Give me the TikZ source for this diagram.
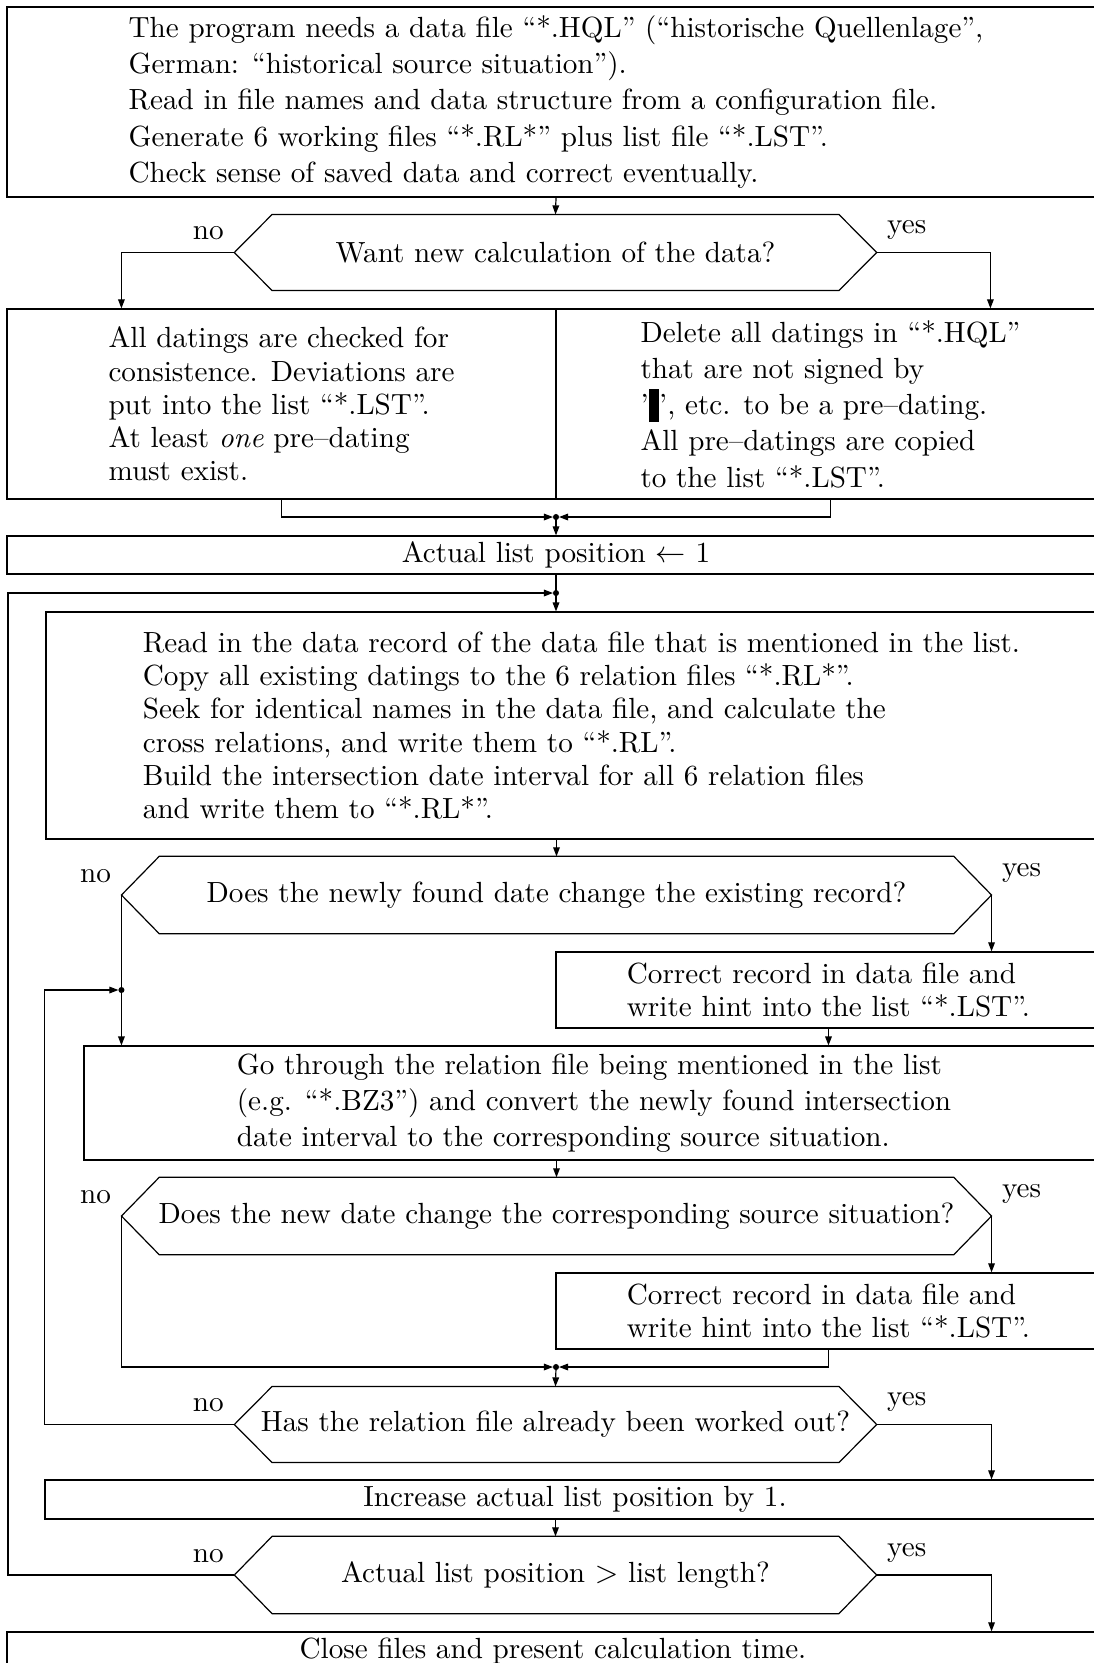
\documentclass[tikz,border=0pt]{standalone}
\usepackage{amsmath}
\usepackage{tikz}
\usetikzlibrary{positioning, arrows.meta, calc}

\tikzset{
  process/.style={draw, rectangle, inner sep=0pt, align=left},
  decision/.style={inner sep=0pt, minimum width=212.2pt, minimum height=24.8pt},
  branch/.style={inner sep=0pt},
  tight/.style={font=\fontsize{9.65pt}{11pt}\selectfont},
}

\begin{document}
\begin{tikzpicture}[x=0.331pt, y=-0.331pt, font=\fontsize{9.65pt}{12pt}\selectfont,
    >={Triangle[length=3pt, width=2.2pt]}]
  \useasboundingbox (0,0) rectangle (1094,1663);
  \clip (0,0) rectangle (1094,1663);

  \node[process, minimum width=363.4pt, minimum height=62.9pt] (setup) at (556,102)
    {The program needs a data file “*.HQL” (“historische Quellenlage”,\\
     German: “historical source situation”).\\
     Read in file names and data structure from a configuration file.\\
     Generate 6 working files “*.RL*” plus list file “*.LST”.\\
     Check sense of saved data and correct eventually.};
  \node[decision] (want) at (555.5,252.5) {Want new calculation of the data?};
  \node[process, tight, minimum width=181.7pt, minimum height=62.9pt] (check) at (281.5,404)
    {All datings are checked for\\
     consistence. Deviations are\\
     put into the list “*.LST”.\\
     At least \emph{one} pre--dating\\
     must exist.};
  \node[process, minimum width=181.7pt, minimum height=62.9pt] (delete) at (830.5,404)
    {Delete all datings in “*.HQL”\\
     that are not signed by\\
     ’\rule[-2.5pt]{3.5pt}{11pt}’, etc. to be a pre--dating.\\
     All pre--datings are copied\\
     to the list “*.LST”.};
  \node[process, minimum width=363.4pt, minimum height=12.6pt] (init) at (556,555)
    {Actual list position $\leftarrow$ 1};
  \node[process, tight, minimum width=354.5pt, minimum height=75.1pt] (read) at (581.5,725.5)
    {Read in the data record of the data file that is mentioned in the list.\\
     Copy all existing datings to the 6 relation files “*.RL*”.\\
     Seek for identical names in the data file, and calculate the\\
     cross relations, and write them to “*.RL”.\\
     Build the intersection date interval for all 6 relation files\\
     and write them to “*.RL*”.};
  \node[decision, minimum width=287.6pt, minimum height=25.2pt] (newdate) at (556.5,895)
    {Does the newly found date change the existing record?};
  \node[process, tight, minimum width=180.4pt, minimum height=25.2pt] (corr1) at (828.5,990)
    {Correct record in data file and\\
     write hint into the list “*.LST”.};
  \node[process, minimum width=337.6pt, minimum height=37.7pt] (convert) at (594,1103)
    {Go through the relation file being mentioned in the list\\
     (e.g. “*.BZ3”) and convert the newly found intersection\\
     date interval to the corresponding source situation.};
  \node[decision, minimum width=287.6pt, minimum height=25.2pt] (newsrc) at (556.5,1216)
    {Does the new date change the corresponding source situation?};
  \node[process, tight, minimum width=180.4pt, minimum height=25.2pt] (corr2) at (828.5,1311)
    {Correct record in data file and\\
     write hint into the list “*.LST”.};
  \node[decision] (done) at (555.5,1424.5) {Has the relation file already been worked out?};
  \node[process, minimum width=350.9pt, minimum height=12.9pt] (incr) at (575,1499.5)
    {Increase actual list position by 1.};
  \node[decision, minimum height=25.2pt] (last) at (555.5,1575)
    {Actual list position $>$ list length?};
  \node[process, minimum width=361.5pt, minimum height=12.6pt] (close) at (553,1651)
    {Close files and present calculation time.};

  % hexagons round the questions
  \foreach \d in {want, newdate, newsrc, done, last}
    \draw (\d.west) -- ([xshift=12.5pt]\d.north west) -- ([xshift=-12.5pt]\d.north east)
      -- (\d.east) -- ([xshift=-12.5pt]\d.south east) -- ([xshift=12.5pt]\d.south west) -- cycle;

  \node[branch, above left=4pt and 3.3pt of want.west] (want-no) {no};
  \node[branch, above right=4pt and 3.3pt of want.east] (want-yes) {yes};
  \node[branch, above left=4pt and 3.3pt of newdate.west] (newdate-no) {no};
  \node[branch, above right=4pt and 3.3pt of newdate.east] (newdate-yes) {yes};
  \node[branch, above left=4pt and 3.3pt of newsrc.west] (newsrc-no) {no};
  \node[branch, above right=4pt and 3.3pt of newsrc.east] (newsrc-yes) {yes};
  \node[branch, above left=4pt and 3.3pt of done.west] (done-no) {no};
  \node[branch, above right=4pt and 3.3pt of done.east] (done-yes) {yes};
  \node[branch, above left=4pt and 3.3pt of last.west] (last-no) {no};
  \node[branch, above right=4pt and 3.3pt of last.east] (last-yes) {yes};

  \coordinate (j1) at (556,517);
  \coordinate (j2) at (556,593);
  \coordinate (j3) at (newdate.west |- corr1.west);
  \coordinate (j4) at (556,1367);

  \draw[->] (setup.south) -- (want.north);
  \draw[->] (want.west) -| ($(check.north west)+(115,0)$);
  \draw[->] (want.east) -| ($(delete.north west)+(435,0)$);
  \draw[->, shorten >=1pt] (check.south) |- (j1);
  \draw[->, shorten >=1pt] (delete.south) |- (j1);
  \draw[->] (j1) -- (init.north);
  \draw (init.south) -- (j2);
  \draw[->] (j2) -- (j2 |- read.north);
  \draw[->] (newdate.north |- read.south) -- (newdate.north);
  \draw[->] (newdate.east) -- (newdate.east |- corr1.north);
  \draw[->] (newdate.west) -- (newdate.west |- convert.north);
  \draw[->] (corr1.south) -- (corr1.south |- convert.north);
  \draw[->] (newsrc.north |- convert.south) -- (newsrc.north);
  \draw[->] (newsrc.east) -- (newsrc.east |- corr2.north);
  \draw[->, shorten >=1pt] (newsrc.west) |- (j4);
  \draw[->, shorten >=1pt] (corr2.south) |- (j4);
  \draw[->] (j4) -- (done.north);
  \draw[->, shorten >=1pt] (done.west) -| ($(j3)+(-77,0)$) -- (j3);
  \draw[->] (done.east) -| (newsrc.east |- incr.north);
  \draw[->] (last.north |- incr.south) -- (last.north);
  \draw[->, shorten >=1pt] (last.west) -| ($(j2)+(-548,0)$) -- (j2);
  \draw[->] (last.east) -| (newsrc.east |- close.north);

  \foreach \j in {j1, j2, j3, j4}
    \fill (\j) circle (1pt);
\end{tikzpicture}
\end{document}
